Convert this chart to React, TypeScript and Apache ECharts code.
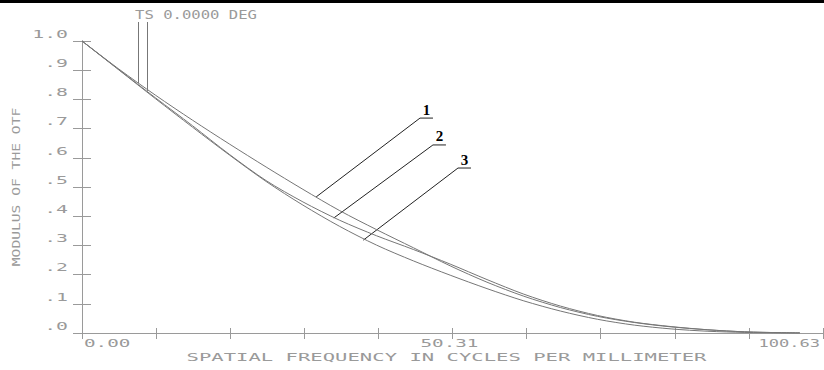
import React, { useEffect, useRef } from "react";
import * as echarts from "echarts";

// Spatial frequency (cycles/mm) at which the curves were read
const freq = [0, 5, 10, 15, 20, 25, 30, 35, 40, 45, 50, 55, 60, 65, 70, 75, 80, 85, 90, 95, 97.5];
// Modulus of the OTF, curve 1
const curve1 = [1.0, 0.904, 0.814, 0.729, 0.6475, 0.5685, 0.492, 0.419, 0.354, 0.292, 0.23, 0.174, 0.126, 0.087, 0.057, 0.036, 0.021, 0.011, 0.004, 0.001, 0.0];
// curve 2
const curve2 = [1.0, 0.902, 0.805, 0.71, 0.612, 0.522, 0.449, 0.386, 0.333, 0.286, 0.236, 0.183, 0.133, 0.092, 0.06, 0.037, 0.022, 0.011, 0.004, 0.001, 0.0];
// curve 3
const curve3 = [1.0, 0.901, 0.802, 0.705, 0.61, 0.519, 0.438, 0.365, 0.301, 0.247, 0.198, 0.152, 0.11, 0.075, 0.047, 0.027, 0.014, 0.006, 0.002, 0.0005, 0.0];

const xMax = 100.63;
const xTickValues = [0, 50.31, 100.63];
const xTickLabels = ["0.00", "50.31", "100.63"];
const yTickValues = [1.0, 0.9, 0.8, 0.7, 0.6, 0.5, 0.4, 0.3, 0.2, 0.1, 0.0];
const yTickLabels = ["1.0", ".9", ".8", ".7", ".6", ".5", ".4", ".3", ".2", ".1", ".0"];

const xTitle = "SPATIAL FREQUENCY IN CYCLES PER MILLIMETER";
const yTitle = "MODULUS OF THE OTF";
const fieldLabel = "TS 0.0000 DEG";

// annotation anchors in data coordinates
const tsAnchors = [
  [7.56, 0.856],
  [8.78, 0.829],
];
const curveLabels = ["1", "2", "3"];
const labelAnchors = [
  [31.8, 0.466],
  [34.2, 0.394],
  [38.2, 0.318],
];
const labelTips = [
  [45.9, 0.736],
  [47.66, 0.644],
  [51.06, 0.565],
];

const AXIS = "#9a9a9a";
const TEXT = "#9a9a9a";
const CURVE = "#767676";
const MONO = '11px "DejaVu Sans Mono"';

function txt(text: string, x: number, y: number, align: string, sx: number, rot = 0, font = MONO, fill = TEXT, valign = "middle") {
  return {
    type: "text",
    x,
    y,
    rotation: rot,
    scaleX: sx,
    silent: true,
    style: {
      text,
      font,
      fill,
      align,
      verticalAlign: valign,
      textAlign: align,
      textVerticalAlign: valign,
    },
  };
}

function line(x1: number, y1: number, x2: number, y2: number, stroke: string) {
  return {
    type: "line",
    silent: true,
    shape: { x1, y1, x2, y2 },
    style: { stroke, lineWidth: 1 },
  };
}

export default function App() {
  const ref = useRef<HTMLDivElement>(null);

  useEffect(() => {
    if (!ref.current) return;
    const chart = echarts.init(ref.current, null, { renderer: "svg" });

    const xAxisBase = {
      type: "value",
      min: 0,
      max: xMax,
      interval: xMax / 10,
      axisLine: { show: true, lineStyle: { color: AXIS, width: 1 } },
      axisLabel: { show: false },
      splitLine: { show: false },
    };
    const yAxisBase = {
      type: "value",
      min: 0,
      max: 1,
      interval: 0.1,
      axisLine: { show: true, lineStyle: { color: AXIS, width: 1 } },
      axisTick: { show: true, inside: true, length: 9, lineStyle: { color: AXIS } },
      axisLabel: { show: false },
      splitLine: { show: false },
    };

    const mk = (ys: number[]) => freq.map((f, i) => [f, ys[i]]);
    const seriesBase = {
      type: "line",
      showSymbol: false,
      symbol: "none",
      smooth: 0.3,
      silent: true,
      lineStyle: { color: CURVE, width: 1 },
    };

    chart.setOption({
      animation: false,
      backgroundColor: "#ffffff",
      grid: { left: 82, top: 41, width: 741, height: 292, show: false },
      xAxis: [
        { ...xAxisBase, position: "bottom", axisTick: { show: true, inside: true, length: 5, lineStyle: { color: AXIS } } },
        { ...xAxisBase, position: "top", axisTick: { show: true, inside: true, length: 6, lineStyle: { color: AXIS } } },
      ],
      yAxis: [
        { ...yAxisBase, position: "left" },
        { ...yAxisBase, position: "right" },
      ],
      series: [
        { ...seriesBase, name: "1", data: mk(curve1) },
        { ...seriesBase, name: "2", data: mk(curve2) },
        { ...seriesBase, name: "3", data: mk(curve3) },
      ],
    });

    const px = (x: number, y: number) => chart.convertToPixel({ gridIndex: 0 }, [x, y]) as number[];
    const graphics: any[] = [];

    graphics.push({ type: "rect", silent: true, shape: { x: 0, y: 0, width: 824, height: 3 }, style: { fill: "#000" } });

    // x tick labels
    xTickValues.forEach((v, i) => {
      const p = px(v, 0);
      const last = i === xTickValues.length - 1;
      const align = i === 0 ? "left" : last ? "right" : "center";
      const dx = i === 0 ? 2 : -3;
      graphics.push(txt(xTickLabels[i], p[0] + dx, p[1] + 10, align, last ? 1.55 : 1.75));
    });
    // y tick labels
    yTickValues.forEach((v, i) => {
      const p = px(0, v);
      graphics.push(txt(yTickLabels[i], p[0] - 14, p[1] - 7, "right", 1.8));
    });
    // axis titles
    const bl = px(0, 0);
    const tr = px(xMax, 1);
    graphics.push(txt(xTitle, (bl[0] + tr[0]) / 2 - 6, bl[1] + 24, "center", 1.87));
    graphics.push(txt(yTitle, 16, (bl[1] + tr[1]) / 2, "center", 1.33, Math.PI / 2));

    // field label with leader lines
    graphics.push(txt(fieldLabel, 135, 15, "left", 1.3, 0, '12px "DejaVu Sans Mono"'));
    tsAnchors.forEach((a) => {
      const p = px(a[0], a[1]);
      graphics.push(line(Math.round(p[0]) + 0.5, 22, Math.round(p[0]) + 0.5, p[1], "#777"));
    });

    // curve labels
    labelAnchors.forEach((a, i) => {
      const p = px(a[0], a[1]);
      const t = px(labelTips[i][0], labelTips[i][1]);
      graphics.push(line(p[0], p[1], t[0], t[1], "#222"));
      graphics.push(line(t[0], t[1], t[0] + 13, t[1], "#222"));
      graphics.push(txt(curveLabels[i], t[0] + 6.5, t[1] - 1, "center", 1, 0, 'bold 15px "Liberation Serif"', "#000", "bottom"));
    });

    chart.setOption({ graphic: { elements: graphics } });

    return () => chart.dispose();
  }, []);

  return (
    <div
      ref={ref}
      style={{ position: "absolute", left: 0, top: 0, width: 824, height: 370, background: "#fff" }}
    />
  );
}
